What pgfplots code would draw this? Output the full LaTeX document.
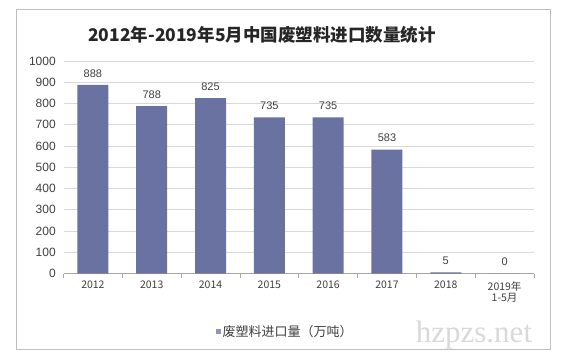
\documentclass[border=0pt]{standalone}
\usepackage{pgfplots}
\pgfplotsset{compat=1.18}
\usepackage{fontspec}
\setmainfont{Liberation Sans}
\newfontfamily\cjk{Noto Sans CJK SC}
\newfontfamily\wmfont{Liberation Serif}
\definecolor{barc}{RGB}{106,114,161}
\definecolor{txt}{RGB}{64,64,64}
\definecolor{gridc}{RGB}{217,217,217}
\definecolor{framec}{RGB}{190,190,190}
\begin{document}
\begin{tikzpicture}
\path[use as bounding box, fill=white] (0bp,0bp) rectangle (564bp,360bp);
\draw[framec, line width=1bp] (16bp,10bp) rectangle (550bp,350bp);
\node[font=\cjk\bfseries\fontsize{17.5bp}{20bp}\selectfont, text=black!85] at (262bp,325bp) {2012年-2019年5月中国废塑料进口数量统计};
\begin{axis}[
  at={(63.5bp,86.5bp)}, anchor=south west, scale only axis,
  width=470.5bp, height=212.5bp,
  ymin=0, ymax=1000, xmin=-0.5, xmax=7.5,
  ytick={0,100,...,1000},
  ymajorgrids, grid style={gridc, line width=0.8bp},
  axis x line*=bottom, axis y line*=left,
  x axis line style={-, draw=gray!70, line width=0.8bp},
  y axis line style={draw=none},
  ytick style={draw=none},
  xtick={0,...,7},
  xticklabels={2012,2013,2014,2015,2016,2017,2018,{2019年\\1-5月}},
  xtick style={draw=none},
  minor xtick={-0.5,0.5,...,7.5},
  minor tick length=4bp,
  tick align=outside,
  minor x tick style={draw=gray!70, line width=0.8bp},
  /pgf/number format/assume math mode=true,
  /pgf/number format/1000 sep={},
  yticklabel style={font=\fontsize{12bp}{14bp}\selectfont, text=txt},
  xticklabel style={font=\cjk\fontsize{10.5bp}{11.5bp}\selectfont, text=txt, align=center, anchor=north},
  nodes near coords,
  nodes near coords style={font=\fontsize{11bp}{13bp}\selectfont, text=txt, yshift=4bp},
  legend style={at={(0.471,-0.275)}, anchor=center, draw=none, fill=none,
    font=\cjk\fontsize{13bp}{15bp}\selectfont, text=txt},
  legend image code/.code={\fill[barc!75] (0bp,-2.5bp) rectangle (5bp,2.5bp);},
]
\addplot[ybar, fill=barc, draw=none, bar width=31bp] coordinates {(0,888) (1,788) (2,825) (3,735) (4,735) (5,583) (6,5) (7,0)};
\addlegendentry{废塑料进口量（万吨）}
\end{axis}
\node[font=\wmfont\fontsize{31bp}{31bp}\selectfont, text=gray!30] at (474bp,25bp) {hzpzs.net};
\end{tikzpicture}
\end{document}
